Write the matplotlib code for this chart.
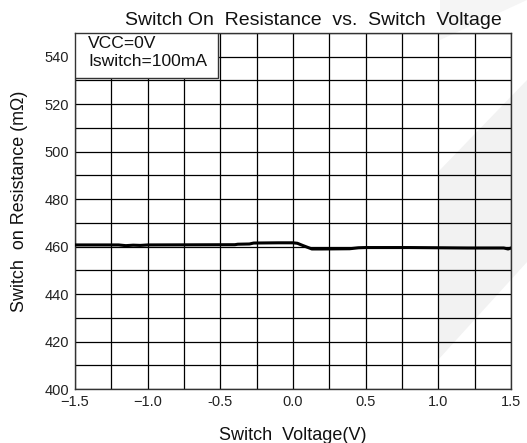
import matplotlib
matplotlib.use("Agg")
import matplotlib.pyplot as plt
from matplotlib.patches import Polygon, Rectangle
import numpy as np

plt.rcParams['font.family'] = ['Liberation Sans', 'DejaVu Sans']

voltage = [-1.5, -1.2, -1.15, -1.1, -1.05, -1.0, -0.4, -0.38, -0.3, -0.27, -0.1, 0.0, 0.03, 0.07, 0.13, 0.2, 0.39, 0.45, 0.5, 0.8, 1.0, 1.2, 1.45, 1.48, 1.5]
resistance = [460.7, 460.7, 460.4, 460.6, 460.5, 460.7, 460.8, 461.0, 461.1, 461.5, 461.6, 461.6, 461.4, 460.4, 459.0, 459.0, 459.1, 459.5, 459.6, 459.6, 459.5, 459.4, 459.4, 459.0, 459.4]

xticks = [-1.5, -1.0, -0.5, 0.0, 0.5, 1.0, 1.5]
xticklabels = ['\u22121.5', '\u22121.0', '-0.5', '0.0', '0.5', '1.0', '1.5']
yticks = [400, 420, 440, 460, 480, 500, 520, 540]

W, H = 527, 443
fig = plt.figure(figsize=(W / 100, H / 100), dpi=100)
fig.patch.set_facecolor('white')


def fp(x, y):
    return (x / W, 1 - y / H)


# watermark band
wm = Polygon([fp(438, 172), fp(527, 80), fp(527, 262), fp(438, 360)],
             closed=True, transform=fig.transFigure, facecolor='#f2f2f2',
             edgecolor='none', zorder=-1)
fig.patches.append(wm)
wm2 = Polygon([fp(440, 0), fp(527, 0), fp(527, 0), fp(440, 40)],
              closed=True, transform=fig.transFigure, facecolor='#f5f5f5',
              edgecolor='none', zorder=-1)
fig.patches.append(wm2)

left, right, top, bottom = 75, 511, 33, 389
ax = fig.add_axes([left / W, 1 - bottom / H, (right - left) / W, (bottom - top) / H])
ax.set_facecolor('none')

ax.set_xlim(-1.5, 1.5)
ax.set_ylim(400, 550)
ax.set_xticks(np.arange(-1.5, 1.51, 0.25), minor=True)
ax.set_yticks(np.arange(400, 551, 10), minor=True)
ax.set_xticks(xticks)
ax.set_xticklabels(xticklabels)
ax.set_yticks(yticks)
ax.grid(True, which='both', color='black', linewidth=0.9)
ax.tick_params(which='both', length=0, labelsize=10.5, colors='#222222', pad=4)
for s in ax.spines.values():
    s.set_color('#333333')
    s.set_linewidth(1.0)

ax.plot(voltage, resistance, color='black', linewidth=2.2, zorder=3)

# legend-like box
box = Rectangle(fp(75, 78), (218 - 75) / W, (78 - 33) / H, transform=fig.transFigure,
                facecolor='white', edgecolor='#333333', linewidth=1.0, zorder=4)
ax.add_artist(box)
fig.text(88 / W, 1 - 48 / H, 'VCC=0V', ha='left', va='baseline', fontsize=12.6,
         color='#111111', zorder=6)
fig.text(88 / W, 1 - 66 / H, 'Iswitch=100mA', ha='left', va='baseline', fontsize=12.6,
         color='#111111', zorder=6)

fig.text(313 / W, 1 - 25 / H, 'Switch On  Resistance  vs.  Switch  Voltage', ha='center',
         va='baseline', fontsize=14.0, color='#111111')
fig.text(293 / W, 1 - 440 / H, 'Switch  Voltage(V)', ha='center', va='baseline',
         fontsize=13, color='#111111')
fig.text(20 / W, 1 - 201 / H, 'Switch  on Resistance (m\u03a9)', ha='center', va='center',
         rotation=90, fontsize=12.9, color='#111111')

fig.savefig('out.png', dpi=100)
